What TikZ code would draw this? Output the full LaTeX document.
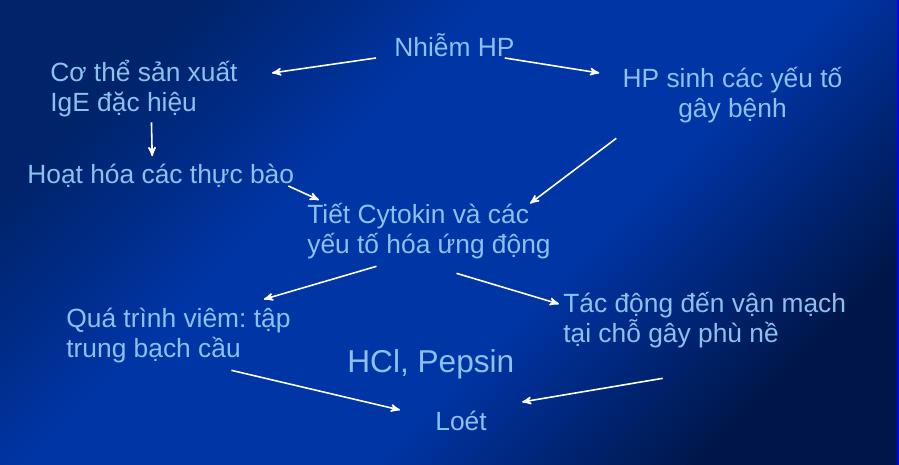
\documentclass[tikz,border=0pt]{standalone}
\usepackage{fontspec}
\setmainfont{Liberation Sans}
\usepackage{tikz}
\usetikzlibrary{arrows,calc,positioning}
\frenchspacing
\definecolor{chuxanh}{HTML}{8CC1EE}
\definecolor{nentoi}{HTML}{00236A}
\definecolor{nensang}{HTML}{0035A5}
\definecolor{nensau}{HTML}{00164A}
\pgfdeclareverticalshading{nenxanh}{100bp}{color(0bp)=(nensau); color(25bp)=(nensau); color(42bp)=(nensang); color(60bp)=(nensang); color(75bp)=(nentoi); color(100bp)=(nentoi)}
\tikzset{
    >=stealth',
    nut/.style={
           text=chuxanh,
           inner sep=0pt,
           align=left},
    muiten/.style={
           ->,
           draw=white,
           line width=0.9pt}
}

\begin{document}
\begin{tikzpicture}[x=0.02cm,y=-0.02cm]
          \fontsize{15pt}{17.6pt}\selectfont
          \useasboundingbox (0,0) rectangle (899,465);
          \shade[shading=nenxanh, shading angle=45] (0,0) rectangle (899,465);
          \fill[blue] (897.3,0) rectangle (899,465);
          \node[nut, anchor=base west](nhiem) at (394,57) {Nhiễm HP};
          \node[nut, anchor=base west](cothe) at (50,112) {Cơ thể sản xuất\\IgE đặc hiệu};
          \node[nut, anchor=base, align=center](hpsinh) at (732.5,118) {HP sinh các yếu tố\\gây bệnh};
          \node[nut, anchor=base west](hoathoa) at (27,184) {Hoạt hóa các thực bào};
          \node[nut, anchor=base west](tiet) at (307,254) {Tiết Cytokin và các\\yếu tố hóa ứng động};
          \node[nut, anchor=base west](quatrinh) at (66,358) {Quá trình viêm: tập\\trung bạch cầu};
          \node[nut, anchor=base west](tacdong) at (563,343) {Tác động đến vận mạch\\tại chỗ gây phù nề};
          \node[nut, anchor=base west, font=\fontsize{18pt}{21pt}\selectfont](hcl) at (347,373) {HCl, Pepsin};
          \node[nut, anchor=base west](loet) at (435,431) {Loét};
          \draw[muiten] ([shift={(-18,1)}]nhiem.base west) -- ([shift={(34,-39)}]cothe.base east);
          \draw[muiten] ([shift={(-10,1)}]nhiem.base east) -- ([shift={(-23,-45)}]hpsinh.base west);
          \draw[muiten] ([shift={(7.5,4.5)}]cothe.south) -- ([shift={(-8.5,-8)}]hoathoa.north);
          \draw[muiten] ([shift={(-6,2)}]hoathoa.base east) -- ([shift={(12,-54)}]tiet.base west);
          \draw[muiten] ([shift={(-6,14.5)}]hpsinh.south west) -- ([shift={(-21,1)}]tiet.north east);
          \draw[muiten] ([shift={(-52.5,6.5)}]tiet.south) -- ([shift={(-27,-8)}]quatrinh.north east);
          \draw[muiten] ([shift={(27.5,13.5)}]tiet.south) -- ([shift={(-4,-39)}]tacdong.base west);
          \draw[muiten] ([shift={(53,6.5)}]quatrinh.south) -- ([shift={(-35,-21)}]loet.base west);
          \draw[muiten] ([shift={(-42,29.5)}]tacdong.south) -- ([shift={(35,-29)}]loet.base east);
\end{tikzpicture}
\end{document}
